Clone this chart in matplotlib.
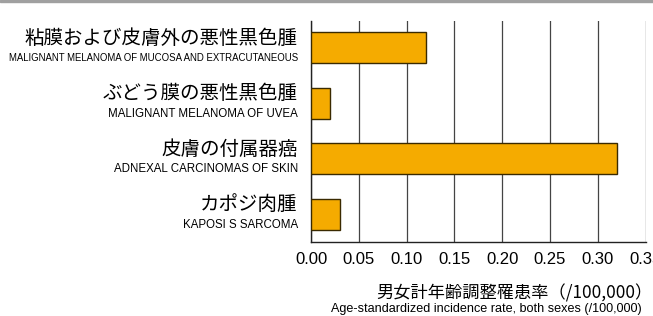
import matplotlib
matplotlib.use("Agg")
import matplotlib.pyplot as plt
from matplotlib import font_manager
import numpy as np

names_ja = ["粘膜および皮膚外の悪性黒色腫", "ぶどう膜の悪性黒色腫", "皮膚の付属器癌", "カポジ肉腫"]
names_en = ["MALIGNANT MELANOMA OF MUCOSA AND EXTRACUTANEOUS", "MALIGNANT MELANOMA OF UVEA",
            "ADNEXAL CARCINOMAS OF SKIN", "KAPOSI S SARCOMA"]
rates = [0.12, 0.02, 0.32, 0.03]
xticks = [0.00, 0.05, 0.10, 0.15, 0.20, 0.25, 0.30, 0.35]

avail = {f.name for f in font_manager.fontManager.ttflist}
NARROW = "Liberation Sans Narrow" if "Liberation Sans Narrow" in avail else "Liberation Sans"
JA = ["Noto Sans CJK JP", "DejaVu Sans"]
BAR_COLOR = "#F5AB00"
MAX_LABEL_W = 292  # px available left of the axis

fig = plt.figure(figsize=(6.53, 3.16), dpi=100)
ax = fig.add_axes([0.4763, 0.2342, 0.5124, 0.6993])

# top gray band
fig.patches.append(plt.Rectangle((0, 0.993), 1, 0.007, transform=fig.transFigure,
                                 color="#A0A0A0", zorder=0))

y = np.arange(len(rates))
ax.barh(y, rates, height=0.56, color=BAR_COLOR, edgecolor="#3a2a00", linewidth=1.0, zorder=3)

ax.set_xlim(0, 0.35)
ax.set_ylim(3.5, -0.48)
ax.set_xticks(xticks)
ax.set_xticklabels([f"{t:.2f}" for t in xticks], fontsize=12, family="Liberation Sans")
ax.tick_params(axis="x", length=0, pad=7)
ax.set_yticks([])
ax.grid(axis="x", color="#444444", linewidth=0.9, zorder=1)
ax.set_axisbelow(True)
for s in ["top", "right"]:
    ax.spines[s].set_visible(False)
for s in ["left", "bottom"]:
    ax.spines[s].set_color("#222222")
    ax.spines[s].set_linewidth(1.0)

# category labels (two lines each)
en_texts = []
for i in range(len(rates)):
    ax.annotate(names_ja[i], xy=(0, i), xycoords=("axes fraction", "data"),
                xytext=(-9.5, 7), textcoords="offset points", ha="right", va="center",
                fontsize=14, family=JA)
    t = ax.annotate(names_en[i], xy=(0, i), xycoords=("axes fraction", "data"),
                    xytext=(-9.5, -7.5), textcoords="offset points", ha="right", va="center",
                    fontsize=8.3, family=NARROW)
    en_texts.append(t)

# shrink the long english label so it fits like the original
fig.canvas.draw()
r = fig.canvas.get_renderer()
for t in en_texts:
    w = t.get_window_extent(r).width
    if w > MAX_LABEL_W:
        t.set_fontsize(t.get_fontsize() * MAX_LABEL_W / w)

fig.text(0.999, 0.070, "男女計年齢調整罹患率（/100,000）", ha="right", va="center",
         fontsize=12.4, family=JA)
fig.text(0.983, 0.022, "Age-standardized incidence rate, both sexes (/100,000)", ha="right",
         va="center", fontsize=9.1, family=NARROW)

fig.savefig("out.png", dpi=100)
